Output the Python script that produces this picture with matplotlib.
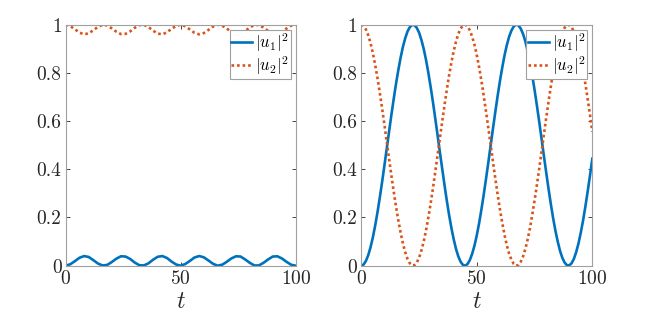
import matplotlib
matplotlib.use("Agg")
from matplotlib import pyplot as plt

plt.rcParams['font.family'] = 'cmr10'
plt.rcParams['mathtext.fontset'] = 'cm'
plt.rcParams['axes.formatter.use_mathtext'] = True

# left panel samples, weak coupling
t_left = [0, 2, 4, 6, 8, 10, 12, 14, 16, 18, 20, 22, 24, 26, 28, 30, 32, 34, 36, 38, 40,
          42, 44, 46, 48, 50, 52, 54, 56, 58, 60, 62, 64, 66, 68, 70, 72, 74, 76, 78, 80,
          82, 84, 86, 88, 90, 92, 94, 96, 98, 100]
left_u1 = [0.000, 0.006, 0.019, 0.033, 0.040, 0.036, 0.023, 0.009, 0.001, 0.003, 0.015,
           0.029, 0.039, 0.038, 0.028, 0.013, 0.002, 0.001, 0.010, 0.025, 0.037,
           0.040, 0.032, 0.017, 0.005, 0.000, 0.007, 0.020, 0.034, 0.040, 0.035,
           0.022, 0.008, 0.000, 0.004, 0.016, 0.030, 0.039, 0.038, 0.026, 0.012,
           0.001, 0.001, 0.012, 0.026, 0.038, 0.039, 0.030, 0.016, 0.004, 0.000]
left_u2 = [1.000, 0.994, 0.981, 0.967, 0.960, 0.964, 0.977, 0.991, 0.999, 0.997, 0.985,
           0.971, 0.961, 0.962, 0.972, 0.987, 0.998, 0.999, 0.990, 0.975, 0.963,
           0.960, 0.968, 0.983, 0.995, 1.000, 0.993, 0.980, 0.966, 0.960, 0.965,
           0.978, 0.992, 1.000, 0.996, 0.984, 0.970, 0.961, 0.962, 0.974, 0.988,
           0.999, 0.999, 0.988, 0.974, 0.962, 0.961, 0.970, 0.984, 0.996, 1.000]

# right panel samples, full exchange (t = 0, 1, ..., 100)
t_right = list(range(0, 101))
right_u1 = [0.000, 0.005, 0.020, 0.044, 0.077, 0.118, 0.167, 0.222, 0.283, 0.348,
            0.416, 0.486, 0.556, 0.625, 0.691, 0.754, 0.811, 0.863, 0.908, 0.944,
            0.972, 0.990, 0.999, 0.998, 0.987, 0.967, 0.937, 0.900, 0.854, 0.801,
            0.742, 0.679, 0.611, 0.542, 0.471, 0.403, 0.335, 0.270, 0.210, 0.156,
            0.109, 0.069, 0.038, 0.016, 0.003, 0.000, 0.007, 0.024, 0.050, 0.084,
            0.127, 0.177, 0.234, 0.296, 0.362, 0.430, 0.500, 0.570, 0.638, 0.704,
            0.766, 0.822, 0.873, 0.916, 0.951, 0.976, 0.993, 1.000, 0.997, 0.984,
            0.962, 0.931, 0.891, 0.844, 0.789, 0.729, 0.665, 0.598, 0.528, 0.458,
            0.389, 0.322, 0.258, 0.199, 0.146, 0.101, 0.062, 0.033, 0.013, 0.002,
            0.001, 0.010, 0.028, 0.056, 0.092, 0.137, 0.188, 0.246, 0.309, 0.375,
            0.444]
right_u2 = [1.000, 0.995, 0.980, 0.956, 0.923, 0.882, 0.833, 0.778, 0.717, 0.652,
            0.584, 0.514, 0.444, 0.375, 0.309, 0.246, 0.189, 0.137, 0.092, 0.056,
            0.028, 0.010, 0.001, 0.002, 0.013, 0.033, 0.063, 0.100, 0.146, 0.199,
            0.258, 0.321, 0.389, 0.458, 0.529, 0.597, 0.665, 0.730, 0.790, 0.844,
            0.891, 0.931, 0.962, 0.984, 0.997, 1.000, 0.993, 0.976, 0.950, 0.916,
            0.873, 0.823, 0.766, 0.704, 0.638, 0.570, 0.500, 0.430, 0.362, 0.296,
            0.234, 0.178, 0.127, 0.084, 0.049, 0.024, 0.007, 0.000, 0.003, 0.016,
            0.038, 0.069, 0.109, 0.156, 0.211, 0.271, 0.335, 0.402, 0.472, 0.542,
            0.611, 0.678, 0.742, 0.801, 0.854, 0.899, 0.938, 0.967, 0.987, 0.998,
            0.999, 0.990, 0.972, 0.944, 0.908, 0.863, 0.812, 0.754, 0.691, 0.625,
            0.556]

labels = [r'$|u_1|^2$', r'$|u_2|^2$']
blue = '#0072BD'
orange = '#D95319'

fig = plt.figure(figsize=(6.54, 3.27), dpi=100)
ax1 = fig.add_axes([0.1005, 0.1875, 0.3517, 0.737])
ax2 = fig.add_axes([0.5525, 0.1875, 0.3532, 0.737])

panels = [(ax1, t_left, left_u1, left_u2), (ax2, t_right, right_u1, right_u2)]
for ax, t, u1, u2 in panels:
    ax.plot(t, u1, color=blue, lw=1.9, label=labels[0])
    ax.plot(t, u2, color=orange, lw=1.9, ls=(0, (1, 1.1)), label=labels[1])
    ax.set_xlim(0, 100)
    ax.set_ylim(0, 1)
    ax.set_xticks([0, 50, 100])
    ax.set_yticks([0, 0.2, 0.4, 0.6, 0.8, 1])
    ax.set_yticklabels(['0', '0.2', '0.4', '0.6', '0.8', '1'])
    ax.tick_params(direction='in', top=True, right=True, length=3, width=0.6,
                   colors='#262626', labelsize=14, labelcolor='#262626', pad=3)
    for s in ax.spines.values():
        s.set_color('#a0a0a0')
        s.set_linewidth(0.8)
    ax.set_xlabel(r'$t$', fontsize=17, color='#262626', labelpad=2)
    leg = ax.legend(loc='upper right', fontsize=12, fancybox=False, framealpha=1,
                    borderaxespad=0.3, borderpad=0.1, labelspacing=0.0,
                    handlelength=1.25, handletextpad=0.2)
    leg.get_frame().set_edgecolor('#a0a0a0')
    leg.get_frame().set_linewidth(0.8)

plt.savefig('out.png', dpi=100)
